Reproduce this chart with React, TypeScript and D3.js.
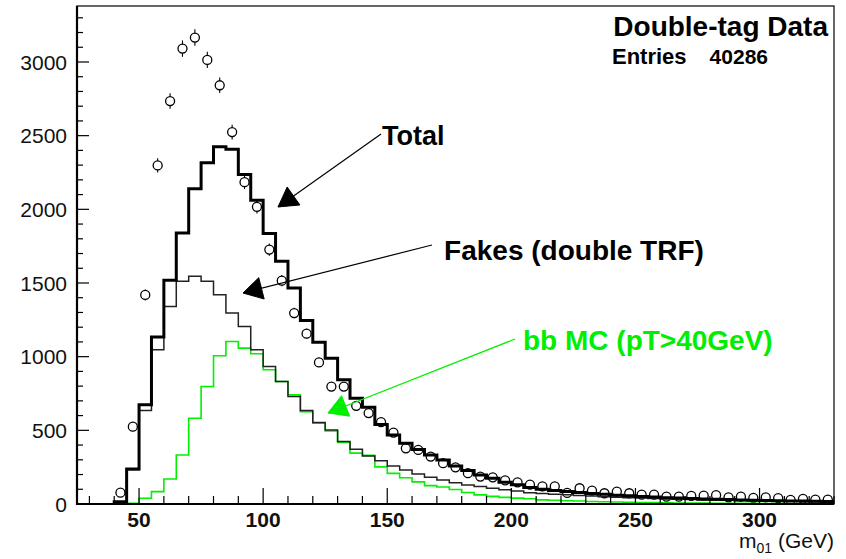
import React from 'react'
import { scaleLinear, line, curveStepAfter, range } from 'd3'

// histogram binning (GeV)
const binStart = 40
const binWidth = 5

// Total = fakes + bb MC
const totalCounts = [
  16, 238, 673, 1133, 1518, 1840, 2139, 2316, 2425, 2407,
  2237, 2062, 1836, 1647, 1466, 1246, 1097, 990, 843, 718,
  657, 540, 469, 412, 370, 333, 299, 258, 227, 197,
  175, 148, 130, 112, 100, 92, 85, 78, 72, 66,
  60, 56, 51, 47, 43, 40, 37, 34, 32, 30,
  28, 26, 24, 22, 21, 20, 18, 17
]

// Fakes (double TRF), thin dark histogram
const fakeCounts = [
  16, 232, 634, 1047, 1341, 1511, 1545, 1511, 1421, 1296,
  1205, 1047, 933, 831, 729, 634, 553, 503, 424, 372,
  326, 294, 258, 231, 204, 181, 163, 145, 129, 118,
  107, 97, 88, 76, 72, 67, 62, 58, 54, 50,
  46, 43, 40, 37, 34, 32, 30, 28, 26, 25,
  23, 22, 20, 19, 18, 17, 16, 15
]

// bb MC (pT>40GeV), green histogram
const bbCounts = [
  0, 5, 39, 84, 170, 333, 582, 797, 1006, 1103,
  1058, 1020, 911, 831, 741, 627, 548, 495, 418, 345,
  330, 252, 208, 178, 150, 125, 115, 98, 78, 62,
  52, 45, 40, 36, 28, 25, 22, 20, 17, 15,
  14, 12, 10, 9, 8, 7, 7, 6, 5, 5,
  4, 4, 3, 3, 3, 2, 2, 2
]

// double-tag data points (bin centres 42.5 ... 327.5)
const dataCounts = [
  77, 525, 1419, 2298, 2735, 3091, 3166, 3014, 2842, 2524,
  2184, 2017, 1727, 1516, 1296, 1156, 961, 797, 797, 666,
  617, 556, 485, 378, 367, 322, 277, 249, 209, 186,
  181, 160, 147, 131, 120, 120, 75, 107, 91, 73,
  84, 73, 63, 63, 50, 50, 55, 57, 60, 45,
  50, 42, 45, 40, 28, 35, 30, 30
]

const yTickLabels = [0, 500, 1000, 1500, 2000, 2500, 3000]
const xTickLabels = [50, 100, 150, 200, 250, 300]

const xDomain = [25, 330]
const yDomain = [0, 3380]

// annotation arrows, in data coordinates
const annotations = [
  { text: 'Total', color: '#000', at: [147.9, 2437], from: [147.5, 2511], tip: [106.0, 2016] },
  { text: 'Fakes (double TRF)', color: '#000', at: [172.9, 1656], from: [168.0, 1758], tip: [91.9, 1432] },
  { text: 'bb MC (pT>40GeV)', color: '#00ee00', at: [204.7, 1045], from: [201.5, 1120], tip: [126.1, 618] }
]

const W = 846
const H = 559
const frame = { left: 77, right: 834, top: 6, bottom: 504 }
const font = '"Liberation Sans", Arial, Helvetica, sans-serif'

const x = scaleLinear().domain(xDomain).range([frame.left, frame.right])
const y = scaleLinear().domain(yDomain).range([frame.bottom, frame.top])

const stepLine = line<[number, number]>()
  .x(d => x(d[0]))
  .y(d => y(d[1]))
  .curve(curveStepAfter)

const histPath = (counts: number[]) => {
  const pts: [number, number][] = [[binStart, 0]]
  counts.forEach((v, i) => pts.push([binStart + i * binWidth, v]))
  pts.push([binStart + counts.length * binWidth, counts[counts.length - 1]])
  return stepLine(pts)
}

const arrowHead = (fx: number, fy: number, tx: number, ty: number) => {
  const len = Math.hypot(tx - fx, ty - fy)
  const dx = (tx - fx) / len
  const dy = (ty - fy) / len
  const L = 19
  const hw = 11
  const bx = tx - dx * L
  const by = ty - dy * L
  return `M${tx},${ty}L${bx - dy * hw},${by + dx * hw}L${bx + dy * hw},${by - dx * hw}Z`
}

const renderAxes = () => {
  const yMinor = range(0, yDomain[1], 100)
  const xMinor = range(30, xDomain[1] + 1, 10)
  return (
    <g>
      <rect
        x={frame.left}
        y={frame.top}
        width={frame.right - frame.left}
        height={frame.bottom - frame.top}
        fill="none"
        stroke="#000"
        strokeWidth={1.2}
      />
      <line x1={frame.left} y1={frame.top} x2={frame.left} y2={frame.bottom + 1} stroke="#000" strokeWidth={2.2} />
      <line x1={frame.left} y1={frame.bottom} x2={frame.right} y2={frame.bottom} stroke="#000" strokeWidth={2.2} />
      {yMinor.map(v => {
        const major = v % 500 === 0
        return (
          <line
            key={'ym' + v}
            x1={frame.left}
            x2={frame.left + (major ? 12 : 6)}
            y1={y(v)}
            y2={y(v)}
            stroke="#000"
            strokeWidth={1.2}
          />
        )
      })}
      {xMinor.map(v => {
        const major = v % 50 === 0
        return (
          <line
            key={'xm' + v}
            x1={x(v)}
            x2={x(v)}
            y1={frame.bottom}
            y2={frame.bottom - (major ? 16 : 8)}
            stroke="#000"
            strokeWidth={1.2}
          />
        )
      })}
      {yTickLabels.map(v => (
        <text
          key={'yl' + v}
          x={67}
          y={y(v)}
          dy="0.36em"
          textAnchor="end"
          fontFamily={font}
          fontSize={21}
          fill="#111"
        >
          {v}
        </text>
      ))}
      {xTickLabels.map(v => (
        <text
          key={'xl' + v}
          x={x(v)}
          y={527}
          textAnchor="middle"
          fontFamily={font}
          fontSize={21}
          fontWeight="bold"
          fill="#111"
        >
          {v}
        </text>
      ))}
      <text x={frame.right} y={548} textAnchor="end" fontFamily={font} fontSize={21} fill="#111">
        m
        <tspan fontSize={14} dy={5}>
          01
        </tspan>
        <tspan dy={-5}> (GeV)</tspan>
      </text>
    </g>
  )
}

const renderData = () =>
  dataCounts.map((v, i) => {
    const cx = x(binStart + binWidth / 2 + i * binWidth)
    const cy = y(v)
    const r = 4.5
    const err = Math.sqrt(v)
    const top = y(v + err)
    const bot = y(v - err)
    return (
      <g key={'d' + i}>
        {cy - r > top && <line x1={cx} x2={cx} y1={top} y2={cy - r} stroke="#000" strokeWidth={1.1} />}
        {bot > cy + r && <line x1={cx} x2={cx} y1={cy + r} y2={Math.min(bot, frame.bottom)} stroke="#000" strokeWidth={1.1} />}
        <circle cx={cx} cy={cy} r={r} fill="none" stroke="#000" strokeWidth={1.3} />
      </g>
    )
  })

const renderAnnotations = () =>
  annotations.map(a => {
    const fx = x(a.from[0])
    const fy = y(a.from[1])
    const tx = x(a.tip[0])
    const ty = y(a.tip[1])
    return (
      <g key={a.text}>
        <line x1={fx} y1={fy} x2={tx} y2={ty} stroke={a.color} strokeWidth={1.2} />
        <path d={arrowHead(fx, fy, tx, ty)} fill={a.color} stroke={a.color} strokeWidth={1} />
        <text
          x={x(a.at[0])}
          y={y(a.at[1])}
          fontFamily={font}
          fontSize={a.text === 'Total' ? 27 : 28}
          fontWeight="bold"
          fill={a.color}
        >
          {a.text}
        </text>
      </g>
    )
  })

export default function App() {
  return (
    <div>
      <style>{`body{margin:0;background:#fff}`}</style>
      <svg width={W} height={H} style={{ display: 'block' }}>
        <defs>
          <clipPath id="frameClip">
            <rect
              x={frame.left}
              y={frame.top}
              width={frame.right - frame.left}
              height={frame.bottom - frame.top}
            />
          </clipPath>
        </defs>
        <rect width={W} height={H} fill="#fff" />
        <g clipPath="url(#frameClip)">
          {renderData()}
          <path d={histPath(bbCounts) || ''} fill="none" stroke="#00f000" strokeWidth={1.6} />
          <path d={histPath(fakeCounts) || ''} fill="none" stroke="#222" strokeWidth={1.5} />
          <path d={histPath(totalCounts) || ''} fill="none" stroke="#000" strokeWidth={3} />
        </g>
        {renderAnnotations()}
        {renderAxes()}
        <text x={828} y={36} textAnchor="end" fontFamily={font} fontSize={28} fontWeight="bold" fill="#000">
          Double-tag Data
        </text>
        <text x={612} y={64} fontFamily={font} fontSize={22} fontWeight="bold" fill="#000">
          Entries
        </text>
        <text x={768} y={64} textAnchor="end" fontFamily={font} fontSize={21} fontWeight="bold" fill="#000">
          40286
        </text>
      </svg>
    </div>
  )
}
